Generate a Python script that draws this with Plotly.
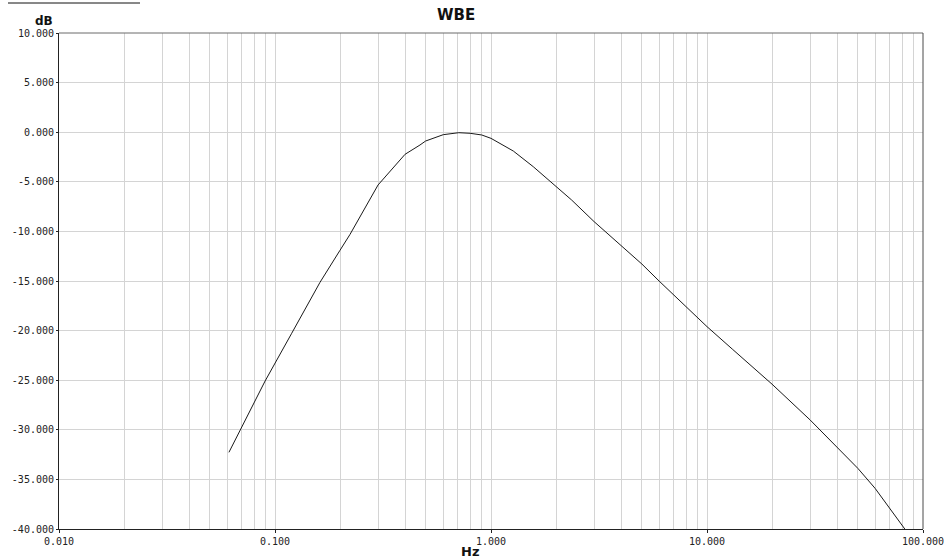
import plotly.graph_objects as go

# Frequency (Hz) and level (dB)
freq_hz = [0.0612, 0.09, 0.1195, 0.1616, 0.2, 0.2225, 0.3, 0.362, 0.4, 0.469,
           0.498, 0.601, 0.709, 0.8, 0.906, 1.0, 1.269, 1.57, 2.01, 2.36,
           3.0, 4.0, 5.0, 6.0, 8.0, 10.0, 13.15, 20.0, 30.0,
           40.0, 50.0, 60.0, 70.0, 80.0, 83.0]
level_db = [-32.27, -25.08, -20.27, -15.13, -11.9, -10.3, -5.32, -3.24, -2.23, -1.29,
            -0.89, -0.25, -0.05, -0.11, -0.28, -0.62, -1.9, -3.48, -5.5, -6.83,
            -9.01, -11.4, -13.3, -15.0, -17.6, -19.6, -21.9, -25.4, -29.0,
            -31.8, -33.9, -35.9, -37.9, -39.6, -40.1]

x_tickvals = [0.01, 0.1, 1, 10, 100]
x_ticktext = ["0.010", "0.100", "1.000", "10.000", "100.000"]
y_tickvals = [10, 5, 0, -5, -10, -15, -20, -25, -30, -35, -40]
y_ticktext = ["10.000", "5.000", "0.000", "-5.000", "-10.000", "-15.000",
              "-20.000", "-25.000", "-30.000", "-35.000", "-40.000"]

title_text = "WBE"
x_title = "Hz"
y_title = "dB"

grid = "#d4d4d4"
tickfont = dict(family="DejaVu Sans Mono", size=10, color="#222222")

fig = go.Figure()
fig.add_trace(go.Scatter(x=freq_hz, y=level_db, mode="lines",
                         line=dict(color="#1a1a1a", width=1), showlegend=False))

fig.update_layout(
    width=944, height=560,
    margin=dict(l=59, r=21, t=33, b=31, autoexpand=False),
    paper_bgcolor="white", plot_bgcolor="white",
    showlegend=False,
    xaxis=dict(type="log", range=[-2, 2], tickmode="array",
               tickvals=x_tickvals, ticktext=x_ticktext,
               showgrid=True, gridcolor=grid, gridwidth=1,
               minor=dict(dtick="D1", showgrid=True, gridcolor=grid, gridwidth=1, ticks=""),
               showline=True, linecolor="#222222", linewidth=1,
               ticks="outside", ticklen=3, tickcolor="#222222",
               ticklabeloverflow="allow",
               tickfont=tickfont, zeroline=False, automargin=False),
    yaxis=dict(range=[-40, 10], tickmode="array",
               tickvals=y_tickvals, ticktext=y_ticktext,
               showgrid=True, gridcolor=grid, gridwidth=1,
               showline=True, linecolor="#222222", linewidth=1,
               ticks="outside", ticklen=2, tickcolor="#222222",
               ticklabeloverflow="allow",
               tickfont=tickfont, zeroline=False, automargin=False),
    shapes=[
        dict(type="line", xref="paper", yref="paper", x0=0, x1=1, y0=1, y1=1,
             line=dict(color="#6a6a6a", width=1)),
        dict(type="line", xref="paper", yref="paper", x0=1, x1=1, y0=0, y1=1,
             line=dict(color="#4a4a4a", width=1)),
        dict(type="line", xref="paper", yref="paper",
             x0=(8 - 59) / 864, x1=(140 - 59) / 864,
             y0=(529 - 3) / 496, y1=(529 - 3) / 496,
             line=dict(color="#111111", width=1)),
    ],
    annotations=[
        dict(text=f"<b>{title_text}</b>", xref="paper", yref="paper",
             x=(456 - 59) / 864, y=(529 - 15) / 496, xanchor="center", yanchor="middle",
             showarrow=False, font=dict(family="DejaVu Sans", size=15, color="#111111")),
        dict(text=f"<b>{y_title}</b>", xref="paper", yref="paper",
             x=(44 - 59) / 864, y=(529 - 21) / 496, xanchor="center", yanchor="middle",
             showarrow=False, font=dict(family="DejaVu Sans", size=12, color="#111111")),
        dict(text=f"<b>{x_title}</b>", xref="paper", yref="paper",
             x=(470 - 59) / 864, y=(529 - 551) / 496, xanchor="center", yanchor="middle",
             showarrow=False, font=dict(family="DejaVu Sans", size=13, color="#111111")),
    ],
)

fig.write_html("out.html", config={"displayModeBar": False},
               post_script="document.body.style.margin='0';document.body.style.overflow='hidden';")
